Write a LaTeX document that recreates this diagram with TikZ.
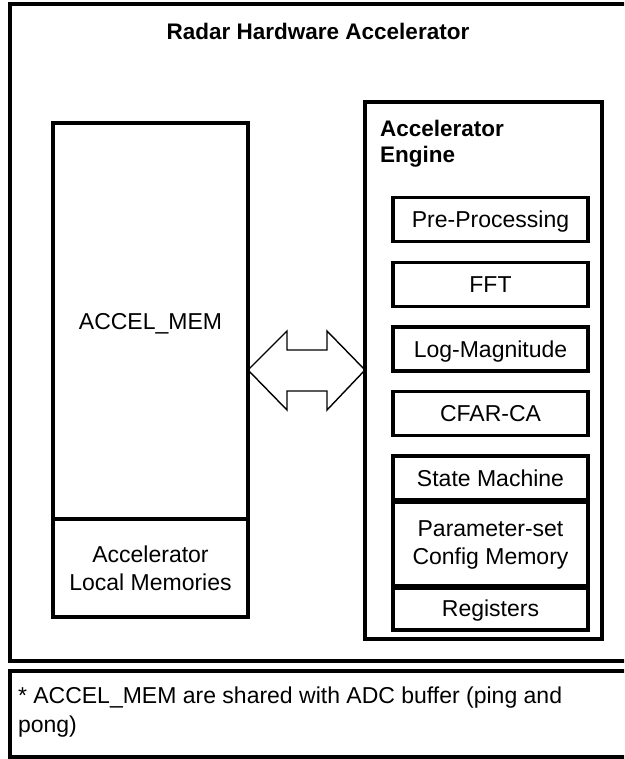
\documentclass[tikz,border=0pt]{standalone}
\usepackage{fontspec}
\setmainfont{Liberation Sans}
\begin{document}
\begin{tikzpicture}[x=1pt,y=-1pt,
  every node/.style={inner sep=0pt, outer sep=0pt, font=\fontsize{23}{28}\selectfont},
  frame/.style={draw, line width=3.6pt, minimum width=617pt},
  box/.style={draw, line width=3.2pt},
  blk/.style={box, minimum width=195pt, minimum height=44pt, text height=16.5pt, text depth=0pt},
  arrowshape/.style={draw, line width=1.4pt, line join=miter}
]
\clip (0,0) rectangle (624,759);
\fill[white] (0,0) rectangle (624,759);
% outer frame and title
\node[frame, minimum height=657pt] (outer) at (318.5,332.5) {};
\node[font=\fontsize{22.5}{27}\selectfont\bfseries, text height=16.5pt, text depth=0pt] (title) at (318,31) {Radar Hardware Accelerator};
% memory column
\node[box, minimum width=195pt, minimum height=396pt, text height=16.5pt, text depth=0pt] (mem) at (150.5,321) {ACCEL\_MEM};
\node[box, minimum width=195pt, minimum height=98pt, align=center] (local) at (150.5,568) {Accelerator\\Local Memories};
% engine
\node[box, minimum width=237pt, minimum height=537pt] (engine) at (483.5,370.5) {};
\node[font=\fontsize{22.5}{26}\selectfont\bfseries, align=left, anchor=north west] (etitle) at (380,120.5) {Accelerator\\Engine};
\node[blk] (pre) at (490.5,219.5) {Pre-Processing};
\node[blk] (fft) at (490.5,284.5) {FFT};
\node[blk] (logm) at (490.5,349) {Log-Magnitude};
\node[blk] (cfar) at (490.5,413.5) {CFAR-CA};
\node[blk] (sm) at (490.5,478) {State Machine};
\node[box, minimum width=195pt, minimum height=86pt, align=center, yshift=-2pt] (param) at (490.5,543) {Parameter-set\\Config Memory};
\node[blk] (reg) at (490.5,608) {Registers};
% double arrow between memory and engine
\draw[arrowshape] (mem.east |- 0,370) -- (287,331) -- (287,350) -- (327,350) -- (327,331)
  -- (engine.west |- 0,370) -- (327,410) -- (327,391) -- (287,391) -- (287,410) -- cycle;
% note
\node[frame, minimum height=86pt] (notebox) at (318.5,714) {};
\node[align=left, anchor=north west, font=\fontsize{23}{29}\selectfont] (note) at (18,686.5) {* ACCEL\_MEM are shared with ADC buffer (ping and\\pong)};
\end{tikzpicture}
\end{document}
